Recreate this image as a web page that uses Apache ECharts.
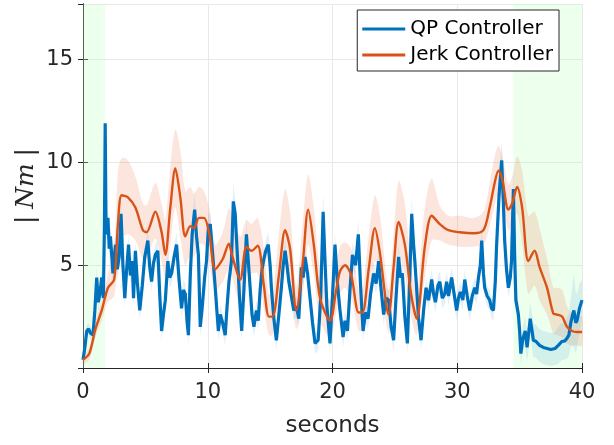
<!DOCTYPE html>
<html>
<head>
<meta charset="utf-8">
<script src="https://cdn.jsdelivr.net/npm/echarts@6/dist/echarts.min.js"></script>
<style>
    html, body { margin: 0; padding: 0; background: #fff; }
    #main { width: 614px; height: 445px; }
</style>
</head>
<body>
<div id="main"></div>
<script>
// QP controller (noisy blue trace)
var qpTime = [
    0, 0.15, 0.3, 0.45, 0.6, 0.8, 0.95, 1.1, 1.23, 1.35,
    1.5, 1.63, 1.72, 1.78, 1.85, 2.0, 2.1, 2.2, 2.4, 2.6,
    2.75, 2.9, 3.05, 3.2, 3.35, 3.5, 3.65, 3.8, 3.95, 4.05,
    4.2, 4.35, 4.55, 4.75, 4.95, 5.2, 5.35, 5.5, 5.65, 5.8,
    6.0, 6.15, 6.3, 6.45, 6.6, 6.8, 6.95, 7.1, 7.3, 7.5,
    7.7, 7.9, 8.05, 8.2, 8.35, 8.45, 8.6, 8.75, 8.95, 9.1,
    9.25, 9.4, 9.55, 9.75, 9.9, 10.05, 10.2, 10.4, 10.6, 10.85,
    11.0, 11.15, 11.4, 11.55, 11.7, 11.9, 12.05, 12.2, 12.4, 12.55,
    12.72, 12.9, 13.1, 13.25, 13.4, 13.55, 13.7, 13.9, 14.05, 14.2,
    14.35, 14.5, 14.65, 14.85, 15.0, 15.1, 15.3, 15.5, 15.7, 15.9,
    16.05, 16.2, 16.35, 16.5, 16.7, 16.9, 17.1, 17.3, 17.5, 17.65,
    17.8, 18.0, 18.2, 18.4, 18.6, 18.85, 19.05, 19.25, 19.4, 19.55,
    19.8, 20.0, 20.2, 20.4, 20.6, 20.85, 21.0, 21.2, 21.4, 21.6,
    21.85, 22.07, 22.25, 22.45, 22.65, 22.85, 23.05, 23.3, 23.5, 23.7,
    23.9, 24.1, 24.3, 24.5, 24.7, 24.9, 25.1, 25.3, 25.45, 25.6,
    25.8, 26.0, 26.2, 26.35, 26.5, 26.6, 26.9, 27.1, 27.3, 27.5,
    27.7, 27.95, 28.1, 28.25, 28.45, 28.6, 28.8, 29.0, 29.15, 29.3,
    29.55, 29.75, 29.95, 30.1, 30.25, 30.45, 30.6, 30.8, 31.0, 31.2,
    31.4, 31.55, 31.7, 31.85, 31.96, 32.1, 32.2, 32.4, 32.6, 32.75,
    32.9, 33.05, 33.15, 33.35, 33.56, 33.7, 33.8, 33.95, 34.1, 34.25,
    34.35, 34.5, 34.6, 34.7, 34.9, 35.0, 35.1, 35.25, 35.45, 35.6,
    35.85, 36.0, 36.1, 36.3, 36.6, 36.9, 37.2, 37.5, 37.85, 38.1,
    38.4, 38.6, 38.8, 38.95, 39.1, 39.25, 39.35, 39.5, 39.6, 39.8,
    40.0
];
var qpValue = [
    0.4, 1.0, 1.8, 1.9, 1.7, 1.6, 2.8, 4.4, 3.2, 3.6,
    4.4, 3.4, 7.0, 11.9, 6.5, 7.3, 5.8, 6.4, 4.6, 6.0,
    4.8, 5.4, 7.5, 5.0, 3.4, 4.8, 6.0, 4.5, 5.2, 3.4,
    5.7, 4.2, 2.8, 4.0, 5.4, 6.2, 4.9, 4.2, 5.1, 5.5,
    5.7, 3.6, 1.8, 2.6, 3.3, 5.2, 4.4, 4.6, 5.4, 6.0,
    4.3, 2.9, 3.8, 3.6, 2.2, 1.6, 4.5, 6.5, 7.7, 6.4,
    5.5, 2.0, 2.9, 4.4, 5.2, 6.8, 7.0, 5.5, 3.9, 1.8,
    2.6, 2.3, 1.6, 3.0, 4.2, 5.2, 8.1, 7.5, 5.2, 3.4,
    1.8, 3.8, 6.5, 5.2, 3.9, 2.6, 2.0, 2.8, 2.3, 3.8,
    4.8, 5.3, 5.7, 6.0, 5.0, 3.9, 2.4, 1.35, 2.6, 3.9,
    5.0, 5.7, 5.0, 4.2, 3.5, 2.8, 3.0, 2.4, 4.9, 4.4,
    5.4, 4.6, 3.4, 2.2, 1.2, 1.35, 3.4, 7.6, 5.2, 3.0,
    1.2, 3.5, 6.0, 4.1, 2.8, 1.5, 2.3, 1.8, 3.8, 5.5,
    5.0, 6.5, 4.0, 1.8, 2.7, 2.4, 3.6, 4.6, 4.1, 5.2,
    3.8, 2.6, 3.4, 3.3, 2.0, 1.35, 3.5, 5.4, 4.4, 4.6,
    2.5, 1.2, 4.5, 7.5, 6.0, 5.2, 2.4, 1.35, 2.8, 3.9,
    3.3, 4.3, 3.6, 3.2, 4.0, 4.2, 3.4, 3.6, 4.2, 3.5,
    4.4, 3.6, 2.8, 3.4, 3.7, 3.3, 4.3, 3.5, 2.8, 3.5,
    3.9, 3.6, 4.4, 5.0, 6.2, 4.6, 3.9, 3.5, 3.3, 2.9,
    2.8, 4.2, 5.9, 8.4, 10.1, 8.0, 6.2, 4.8, 3.9, 4.4,
    5.2, 8.7, 5.5, 3.3, 2.6, 1.8, 0.7, 1.4, 1.8, 1.0,
    2.4, 1.8, 1.35, 1.3, 1.1, 1.0, 0.95, 0.9, 0.95, 1.1,
    1.3, 1.3, 1.45, 1.6, 2.2, 2.6, 2.8, 2.2, 2.3, 2.9,
    3.3
];
// half width of the light blue band
var qpSpread = [
    0.2, 0.3, 0.3, 0.3, 0.3, 0.3, 0.4, 0.5, 0.4, 0.4,
    0.4, 0.4, 0.6, 0.8, 0.6, 0.5, 0.5, 0.5, 0.5, 0.5,
    0.5, 0.5, 0.6, 0.5, 0.5, 0.5, 0.5, 0.5, 0.5, 0.5,
    0.5, 0.5, 0.5, 0.5, 0.5, 0.5, 0.5, 0.5, 0.5, 0.5,
    0.5, 0.5, 0.5, 0.5, 0.5, 0.5, 0.5, 0.5, 0.5, 0.6,
    0.5, 0.5, 0.5, 0.5, 0.5, 0.5, 0.5, 0.6, 0.8, 0.6,
    0.5, 0.5, 0.5, 0.5, 0.5, 0.6, 0.6, 0.5, 0.5, 0.5,
    0.5, 0.5, 0.5, 0.5, 0.5, 0.6, 0.9, 0.7, 0.5, 0.5,
    0.5, 0.5, 0.6, 0.5, 0.5, 0.5, 0.5, 0.5, 0.5, 0.5,
    0.5, 0.5, 0.5, 0.6, 0.5, 0.5, 0.5, 0.5, 0.5, 0.5,
    0.5, 0.6, 0.5, 0.5, 0.5, 0.5, 0.5, 0.5, 0.5, 0.5,
    0.5, 0.5, 0.5, 0.5, 0.5, 0.5, 0.6, 0.9, 0.6, 0.5,
    0.5, 0.5, 0.6, 0.5, 0.5, 0.5, 0.5, 0.5, 0.5, 0.6,
    0.5, 0.7, 0.5, 0.5, 0.5, 0.5, 0.5, 0.5, 0.5, 0.6,
    0.5, 0.5, 0.5, 0.5, 0.5, 0.5, 0.5, 0.6, 0.5, 0.5,
    0.5, 0.5, 0.6, 0.9, 0.6, 0.5, 0.5, 0.5, 0.5, 0.5,
    0.5, 0.5, 0.5, 0.5, 0.5, 0.5, 0.5, 0.5, 0.5, 0.5,
    0.5, 0.5, 0.5, 0.5, 0.5, 0.5, 0.5, 0.5, 0.5, 0.5,
    0.5, 0.5, 0.5, 0.6, 0.8, 0.6, 0.5, 0.5, 0.5, 0.5,
    0.5, 0.6, 0.7, 0.9, 1.0, 0.8, 0.6, 0.5, 0.5, 0.5,
    0.6, 0.9, 0.7, 0.6, 0.6, 0.6, 0.5, 0.6, 0.7, 0.7,
    0.8, 0.8, 0.8, 0.8, 0.8, 0.8, 0.8, 0.8, 0.8, 0.9,
    0.9, 0.9, 1.0, 1.0, 1.2, 1.5, 1.8, 1.5, 1.3, 1.2,
    1.0
];

// Jerk controller (smooth orange trace) with its band
var jerkTime = [
    0, 0.5, 1, 1.5, 2, 2.5, 2.8, 3.1, 3.6, 4.2,
    4.8, 5.1, 5.8, 6.3, 6.6, 7.0, 7.4, 7.8, 8.2, 8.6,
    8.9, 9.3, 9.7, 10.1, 10.6, 11.2, 11.7, 11.9, 12.6, 13.1,
    13.5, 14.0, 14.5, 14.9, 15.2, 15.7, 16.2, 16.6, 17.1, 17.6,
    18.05, 18.5, 19.0, 19.8, 20.3, 20.6, 21.0, 21.5, 22.1, 22.4,
    22.9, 23.4, 23.8, 24.5, 24.9, 25.3, 25.8, 26.3, 26.75, 27.4,
    27.95, 28.6, 29.3, 30.2, 31.3, 32.1, 32.6, 33.0, 33.3, 33.6,
    34.1, 34.4, 34.8, 35.2, 35.7, 36.2, 36.6, 37.2, 37.7, 38.0,
    38.4, 38.8, 39.2, 39.6, 40
];
var jerkValue = [
    0.4, 0.7, 1.9, 2.8, 3.9, 4.3, 7.0, 8.4, 8.3, 7.8,
    6.7, 6.6, 7.6, 6.6, 5.5, 7.8, 9.7, 8.3, 6.4, 6.9,
    6.8, 7.3, 7.3, 6.6, 4.8, 5.3, 6.05, 5.6, 4.3, 5.9,
    5.7, 5.95, 4.0, 2.5, 2.5, 4.5, 6.7, 5.8, 2.8, 5.0,
    7.7, 6.0, 3.4, 2.3, 3.8, 4.7, 5.0, 4.5, 2.7, 2.7,
    4.8, 6.8, 5.6, 2.6, 4.9, 7.1, 6.0, 3.6, 2.4, 5.9,
    7.4, 7.0, 6.7, 6.6, 6.55, 6.7, 7.8, 9.0, 9.6, 9.2,
    7.7, 8.0, 8.8, 7.8, 5.2, 5.7, 4.9, 3.9, 2.65, 2.6,
    2.5, 2.0, 1.8, 1.75, 1.75
];
var jerkHigh = [
    0.6, 1.0, 2.3, 3.3, 4.6, 6.0, 9.5, 10.2, 10.1, 9.3,
    8.0, 7.9, 9.0, 8.0, 7.2, 9.8, 11.6, 10.6, 8.6, 8.8,
    8.5, 8.8, 8.6, 7.8, 6.0, 6.6, 7.8, 7.5, 6.4, 7.2,
    7.0, 7.3, 5.8, 3.6, 3.6, 6.5, 8.7, 7.6, 4.0, 7.0,
    9.4, 7.8, 4.8, 3.3, 5.0, 5.9, 6.1, 5.8, 3.8, 3.8,
    6.4, 8.4, 7.4, 3.8, 6.5, 9.1, 8.0, 5.0, 3.6, 7.8,
    9.2, 7.9, 7.4, 7.4, 7.3, 7.6, 9.0, 10.3, 10.8, 10.4,
    8.9, 9.3, 10.3, 9.6, 7.4, 7.6, 6.8, 5.3, 3.9, 3.9,
    3.8, 3.0, 2.6, 2.5, 2.5
];
var jerkLow = [
    0.2, 0.4, 1.5, 2.3, 3.2, 3.5, 5.0, 6.3, 6.5, 6.2,
    5.3, 5.3, 6.3, 5.2, 4.4, 6.0, 7.8, 6.4, 5.0, 5.5,
    5.4, 6.0, 6.0, 5.2, 3.8, 4.2, 4.8, 4.5, 3.2, 4.6,
    4.6, 4.6, 2.9, 1.6, 1.6, 3.3, 5.2, 4.3, 1.9, 3.5,
    6.0, 4.5, 2.3, 1.5, 2.7, 3.6, 3.9, 3.4, 1.8, 1.9,
    3.4, 5.2, 4.3, 1.7, 3.5, 5.5, 4.5, 2.5, 1.6, 4.4,
    6.2, 6.2, 6.0, 5.9, 5.9, 6.0, 6.9, 7.9, 8.5, 8.2,
    6.7, 7.0, 7.5, 6.0, 3.6, 4.0, 3.3, 2.6, 1.7, 1.6,
    1.5, 1.2, 1.1, 1.1, 1.1
];

// shaded start / end phases (seconds)
var phaseStart = [0, 1.76];
var phaseEnd = [34.5, 40];

var xTicks = [0, 10, 20, 30, 40];
var yTicks = [5, 10, 15];

var blue = '#0072BD';
var orange = '#D95319';
var font = 'DejaVu Sans';
var axisColor = '#262626';

function pairs(t, v) {
    return t.map(function(x, i) { return [x, v[i]]; });
}

var qpLine = pairs(qpTime, qpValue);
var qpHigh = qpValue.map(function(v, i) { return v + qpSpread[i]; });
var qpLow = qpValue.map(function(v, i) { return v - qpSpread[i]; });
var jerkLine = pairs(jerkTime, jerkValue);

// band polygon: upper edge forward, lower edge backward
function bandSeries(t, hi, lo, fill, smooth, extra) {
    var s = {
        type: 'custom',
        silent: true,
        data: pairs(t, hi),
        encode: { x: 0, y: 1 },
        renderItem: function(params, api) {
            if (params.dataIndex !== 0) return;
            var pts = [];
            for (var i = 0; i < t.length; i++) pts.push(api.coord([t[i], hi[i]]));
            for (var j = t.length - 1; j >= 0; j--) pts.push(api.coord([t[j], lo[j]]));
            return {
                type: 'polygon',
                shape: { points: pts, smooth: smooth },
                style: { fill: fill }
            };
        }
    };
    for (var k in extra) s[k] = extra[k];
    return s;
}

var myChart = echarts.init(document.getElementById('main'));

var option = {
    animation: false,
    grid: { left: 83, right: 32, top: 4, bottom: 77, show: false },
    legend: {
        data: ['QP Controller', 'Jerk Controller'],
        orient: 'vertical',
        right: 55,
        top: 10,
        icon: 'rect',
        itemWidth: 43,
        itemHeight: 3,
        itemGap: 6,
        padding: [9, 6, 6, 5],
        backgroundColor: '#fff',
        borderColor: axisColor,
        borderWidth: 1,
        textStyle: { fontFamily: font, fontSize: 20, color: '#000' }
    },
    xAxis: [{
        type: 'value',
        min: xTicks[0],
        max: xTicks[xTicks.length - 1],
        interval: 10,
        name: 'seconds',
        nameLocation: 'middle',
        nameGap: 47,
        nameTextStyle: { fontFamily: font, fontSize: 23, color: axisColor },
        axisLine: { lineStyle: { color: axisColor } },
        axisTick: { inside: true, length: 5, lineStyle: { color: axisColor } },
        axisLabel: { fontFamily: font, fontSize: 21, color: axisColor, margin: 14 },
        splitLine: { show: true, lineStyle: { color: '#e8e8e8' } }
    }, {
        type: 'value',
        position: 'top',
        min: xTicks[0],
        max: xTicks[xTicks.length - 1],
        interval: 10,
        axisLine: { show: true, lineStyle: { color: axisColor } },
        axisTick: { show: true, inside: true, length: 5, lineStyle: { color: axisColor } },
        axisLabel: { show: false },
        splitLine: { show: false }
    }],
    yAxis: [{
        type: 'value',
        min: 0,
        max: 17.7,
        interval: 5,
        name: '{bar||}  {it|Nm}  {bar||}',
        nameLocation: 'middle',
        nameGap: 44,
        nameMoveOverlap: false,
        nameTextStyle: {
            rich: {
                bar: { fontFamily: 'DejaVu Sans', fontSize: 25, color: axisColor },
                it: { fontFamily: 'DejaVu Serif', fontStyle: 'italic', fontSize: 25, color: axisColor }
            }
        },
        axisLine: { show: true, lineStyle: { color: axisColor } },
        axisTick: { inside: true, length: 5, lineStyle: { color: axisColor } },
        axisLabel: {
            fontFamily: font, fontSize: 21, color: axisColor, margin: 10,
            showMaxLabel: false,
            formatter: function(v) { return yTicks.indexOf(v) >= 0 ? String(v) : ''; }
        },
        splitLine: { show: true, lineStyle: { color: '#e8e8e8' } }
    }, {
        type: 'value',
        position: 'right',
        min: 0,
        max: 17.7,
        interval: 5,
        axisLine: { show: true, lineStyle: { color: axisColor } },
        axisTick: { show: true, inside: true, length: 5, lineStyle: { color: axisColor } },
        axisLabel: { show: false },
        splitLine: { show: false }
    }],
    series: [
        // green phases + orange band
        bandSeries(jerkTime, jerkHigh, jerkLow, 'rgba(235,125,80,0.2)', 0.3, {
            markArea: {
                silent: true,
                itemStyle: { color: 'rgba(190,255,190,0.28)' },
                data: [
                    [{ xAxis: phaseStart[0] }, { xAxis: phaseStart[1] }],
                    [{ xAxis: phaseEnd[0] }, { xAxis: phaseEnd[1] }]
                ]
            }
        }),
        // blue band
        bandSeries(qpTime, qpHigh, qpLow, 'rgba(80,160,220,0.16)', 0, {}),
        {
            name: 'QP Controller', type: 'line', data: qpLine,
            showSymbol: false, color: blue,
            lineStyle: { color: blue, width: 3.2 }
        },
        {
            name: 'Jerk Controller', type: 'line', data: jerkLine,
            showSymbol: false, smooth: 0.3, color: orange,
            lineStyle: { color: orange, width: 2.4 }
        }
    ]
};
myChart.setOption(option);
</script>
</body>
</html>
